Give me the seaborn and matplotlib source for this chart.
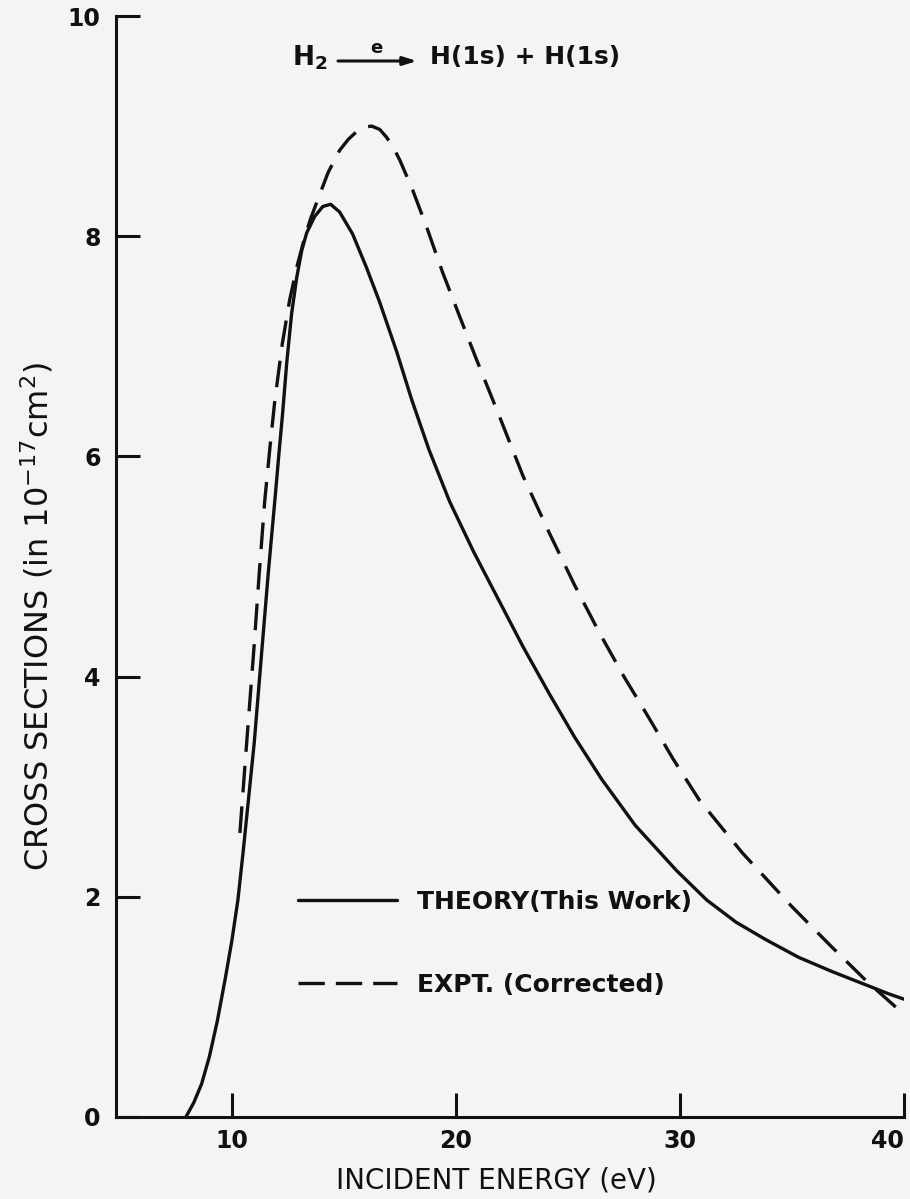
import numpy as np
import pandas as pd
import matplotlib
matplotlib.use("Agg")
import matplotlib.pyplot as plt
from matplotlib.lines import Line2D
import seaborn as sns

# ---- data ----
theory_energy = [7.95, 8.3, 8.65, 9.0, 9.35, 9.7, 10.0, 10.27, 10.5, 10.75, 11.0,
                 11.34, 11.63, 11.92, 12.1, 12.27, 12.45, 12.67, 12.9, 13.12, 13.34,
                 13.7, 14.06, 14.41, 14.81, 15.39, 16.0, 16.6, 17.36, 18.02, 18.8,
                 19.72, 20.8, 21.95, 23.0, 24.18, 25.3, 26.5, 28.0, 29.84, 31.2,
                 32.5, 33.84, 35.3, 36.8, 38.3, 39.3, 40.0]
theory_sigma = [0.0, 0.13, 0.3, 0.55, 0.87, 1.25, 1.6, 1.97, 2.4, 2.9, 3.4,
                4.24, 4.95, 5.60, 6.02, 6.40, 6.85, 7.30, 7.63, 7.87, 8.03,
                8.18, 8.27, 8.29, 8.22, 8.02, 7.72, 7.40, 6.95, 6.52, 6.06,
                5.59, 5.13, 4.68, 4.27, 3.84, 3.45, 3.07, 2.65, 2.24, 1.97,
                1.77, 1.61, 1.45, 1.32, 1.20, 1.12, 1.07]

expt_energy = [10.36, 10.67, 10.98, 11.22, 11.47, 11.7, 11.92, 12.25, 12.58, 12.9,
               13.2, 13.5, 13.83, 14.3, 14.81, 15.2, 15.57, 15.9, 16.24, 16.6,
               16.9, 17.2, 17.5, 18.07, 18.7, 19.41, 20.17, 20.92, 21.95, 23.0,
               24.18, 25.3, 26.4, 27.5, 28.6, 29.7, 30.86, 32.78, 35.0, 36.7,
               38.3, 39.9]
expt_sigma = [2.58, 3.42, 4.24, 4.93, 5.60, 6.08, 6.51, 7.02, 7.42, 7.72,
              7.95, 8.15, 8.33, 8.58, 8.78, 8.88, 8.95, 8.99, 9.00, 8.97,
              8.90, 8.81, 8.69, 8.42, 8.08, 7.67, 7.27, 6.88, 6.36, 5.82,
              5.30, 4.83, 4.40, 4.00, 3.63, 3.25, 2.88, 2.40, 1.91, 1.56,
              1.24, 0.95]

x_ticks = [10, 20, 30, 40]
y_ticks = [0, 2, 4, 6, 8, 10]
series_labels = ["THEORY(This Work)", "EXPT. (Corrected)"]
x_label = "INCIDENT ENERGY (eV)"
y_label = r"CROSS SECTIONS (in 10$^{-17}$cm$^{2}$)"
reaction_left = r"H$_\mathbf{2}$"
reaction_over = "e"
reaction_right = "H(1s) + H(1s)"

# ---- style ----
sns.set_style("ticks")
plt.rcParams["font.family"] = ["DejaVu Sans"]
plt.rcParams["mathtext.fontset"] = "dejavusans"
bg = "#f4f4f2"
ink = "#111111"

W, H = 910, 1199
fig = plt.figure(figsize=(W / 100, H / 100), dpi=100, facecolor=bg)
ax = fig.add_axes([116 / W, (H - 1117) / H, (904 - 116) / W, (1117 - 16) / H])
ax.set_facecolor(bg)

df_t = pd.DataFrame({"E": theory_energy, "S": theory_sigma})
df_e = pd.DataFrame({"E": expt_energy, "S": expt_sigma})

lw = 2.4
sns.lineplot(data=df_t, x="E", y="S", ax=ax, color=ink, lw=lw, sort=False,
             estimator=None)
sns.lineplot(data=df_e, x="E", y="S", ax=ax, color=ink, lw=lw, sort=False,
             estimator=None)
ax.lines[1].set_dashes([8.0, 4.2])
for ln in ax.lines:
    ln.set_solid_joinstyle("round")
    ln.set_dash_joinstyle("round")

ax.set_xlim(4.83, 40)
ax.set_ylim(0, 10)
ax.set_xticks(x_ticks)
ax.set_yticks(y_ticks)
for s in ["top", "right"]:
    ax.spines[s].set_visible(False)
for s in ["left", "bottom"]:
    ax.spines[s].set_linewidth(2.2)
    ax.spines[s].set_color(ink)
ax.tick_params(direction="in", length=17, width=2.2, color=ink,
               labelsize=17, labelcolor=ink)
ax.tick_params(axis="x", pad=9)
ax.tick_params(axis="y", pad=11)
for t in ax.get_xticklabels() + ax.get_yticklabels():
    t.set_fontweight("bold")
ax.get_xticklabels()[-1].set_horizontalalignment("right")

ax.set_xlabel(x_label, fontsize=20, color=ink, fontweight="medium")
ax.set_ylabel(y_label, fontsize=23, color=ink, fontweight="medium")
ax.xaxis.set_label_coords((496 - 116) / 788, -(1180 - 1117) / 1101)
ax.yaxis.set_label_coords(-(116 - 37) / 788, (1117 - 617) / 1101)
ax.xaxis.label.set_va("center")
ax.yaxis.label.set_va("center")

# legend
handles = [Line2D([], [], color=ink, lw=lw),
           Line2D([], [], color=ink, lw=lw, dashes=[7.9, 3.3])]
ax.legend(handles, series_labels, loc="upper left",
          bbox_to_anchor=(298 / W, 1 - 890 / H), bbox_transform=fig.transFigure,
          frameon=False, prop={"weight": "bold", "size": 18}, labelcolor=ink,
          handlelength=3.95, handletextpad=0.8, labelspacing=2.35,
          borderpad=0, borderaxespad=0)

# reaction label
def fx(px):
    return px / W

def fy(py):
    return 1 - py / H

fig.text(fx(292), fy(58), reaction_left, fontsize=19, fontweight="bold",
         ha="left", va="center", color=ink)
ax.annotate("", xy=(fx(417), fy(61)), xytext=(fx(338), fy(61)),
            xycoords="figure fraction", textcoords="figure fraction",
            arrowprops=dict(arrowstyle="-|>,head_length=0.8,head_width=0.25",
                            color=ink, lw=2.2, shrinkA=0, shrinkB=0))
fig.text(fx(376), fy(48), reaction_over, fontsize=13, fontweight="bold",
         ha="center", va="center", color=ink)
fig.text(fx(430), fy(57), reaction_right, fontsize=18, fontweight="bold",
         ha="left", va="center", color=ink)

fig.savefig("out.png", dpi=100, facecolor=bg)
